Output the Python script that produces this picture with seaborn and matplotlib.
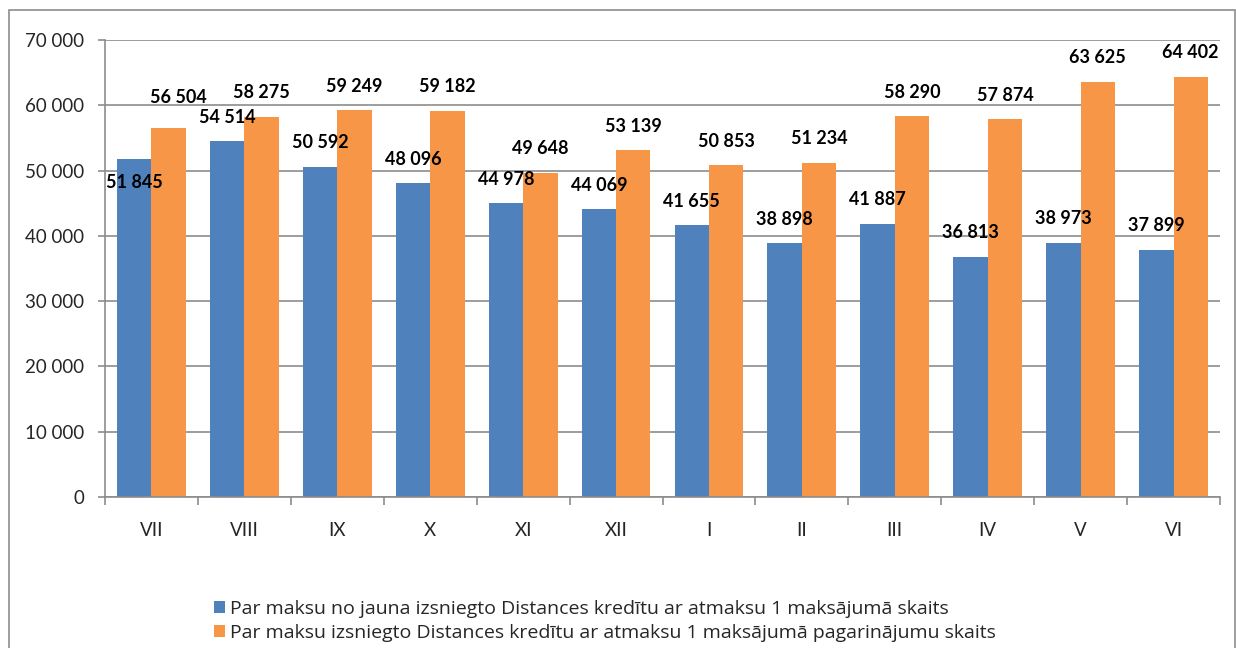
import matplotlib
matplotlib.use("Agg")
import matplotlib.pyplot as plt
import seaborn as sns
import pandas as pd
from matplotlib.patches import Rectangle, Patch

months = ["VII", "VIII", "IX", "X", "XI", "XII", "I", "II", "III", "IV", "V", "VI"]
new_loans = [51845, 54514, 50592, 48096, 44978, 44069, 41655, 38898, 41887, 36813, 38973, 37899]
extensions = [56504, 58275, 59249, 59182, 49648, 53139, 50853, 51234, 58290, 57874, 63625, 64402]
series_names = [
    "Par maksu no jauna izsniegto Distances kredītu ar atmaksu 1 maksājumā skaits",
    "Par maksu izsniegto Distances kredītu ar atmaksu 1 maksājumā pagarinājumu skaits",
]
colors = ["#4F81BD", "#F79646"]

df = pd.DataFrame({
    "month": months * 2,
    "value": new_loans + extensions,
    "series": [series_names[0]] * len(months) + [series_names[1]] * len(months),
})

sns.set_style("white")
plt.rcParams["font.family"] = ["Lato", "DejaVu Sans"]

fig = plt.figure(figsize=(12.36, 6.48), dpi=100)
ax = fig.add_axes([105 / 1236, 1 - 497 / 648, 1115 / 1236, 457 / 648])

sns.barplot(data=df, x="month", y="value", hue="series", order=months,
            hue_order=series_names, palette=colors, width=0.74, saturation=1,
            ax=ax, legend=False, edgecolor="none")

ax.set_xlim(-0.5, len(months) - 0.5)
ax.set_ylim(0, 70000)
ax.set_yticks(range(0, 70001, 10000))
ax.set_yticklabels([f"{v:,}".replace(",", " ") for v in range(0, 70001, 10000)], fontsize=13.5)
ax.set_xlabel("")
ax.set_ylabel("")
ax.yaxis.grid(True, color="#8c8c8c", linewidth=1.2)
ax.set_axisbelow(True)
for s in ["top", "right"]:
    ax.spines[s].set_visible(False)
for s in ["left", "bottom"]:
    ax.spines[s].set_color("#8c8c8c")
    ax.spines[s].set_linewidth(1.2)
ax.tick_params(axis="y", length=5, color="#8c8c8c", width=1.2, pad=10, left=True)
ax.tick_params(axis="x", which="major", length=0, labelsize=13.5, pad=18)
ax.set_xticks([i - 0.5 for i in range(len(months) + 1)], minor=True)
ax.tick_params(axis="x", which="minor", length=5.5, color="#8c8c8c", width=1.2, bottom=True)

# data labels
for ci, cont in enumerate(ax.containers):
    vals = new_loans if ci == 0 else extensions
    for i, (bar, v) in enumerate(zip(cont, vals)):
        x = bar.get_x() + bar.get_width() / 2
        dy = 24
        dx = 0
        if i == 0 and ci == 0:
            dy = -24
        if i == 0 and ci == 1:
            dx = 10
            dy = 31
        ax.annotate(f"{v:,}".replace(",", " "), (x, v), xytext=(dx, dy),
                    textcoords="offset pixels", ha="center", va="center",
                    fontsize=13, fontweight="bold", color="black")

handles = [Patch(facecolor=c, edgecolor="none") for c in colors]
fig.legend(handles, series_names, loc="upper left", bbox_to_anchor=(204 / 1236, 1 - 590 / 648),
           frameon=False, handlelength=0.6, handleheight=0.6,
           handletextpad=0.25, labelspacing=0.33, borderpad=0,
           prop={"family": ["Open Sans", "DejaVu Sans"], "size": 14})

fig.add_artist(Rectangle((9 / 1236, -0.01), 1226 / 1236, 1 - 10 / 648 + 0.01,
                         transform=fig.transFigure, fill=False,
                         edgecolor="#8c8c8c", linewidth=1.2))

fig.savefig("out.png", dpi=100)
